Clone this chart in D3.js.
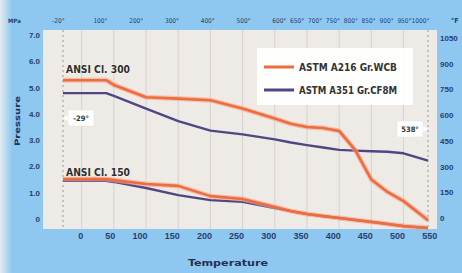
<!DOCTYPE html>
<html>
<head>
<meta charset="utf-8">
<script src="https://cdn.jsdelivr.net/npm/d3@7"></script>
<style>
body { margin: 0; background: #8ec8f0; overflow: hidden; }
text { font-family: "Liberation Sans Narrow", "DejaVu Sans Condensed", "Liberation Sans", sans-serif; }
</style>
</head>
<body>
<div id="chart"></div>
<script>
// temperatures in degC, pressures in MPa
var temps = [-29, 38, 50, 100, 150, 200, 250, 300, 325, 350, 375, 400, 425, 450, 475, 500, 538];
var wcb300 = [5.28, 5.28, 5.1, 4.63, 4.58, 4.52, 4.2, 3.82, 3.62, 3.5, 3.46, 3.35, 2.62, 1.5, 1.03, 0.68, -0.05];
var cf8m300 = [4.79, 4.79, 4.68, 4.2, 3.72, 3.36, 3.22, 3.03, 2.91, 2.81, 2.72, 2.63, 2.6, 2.58, 2.56, 2.5, 2.22];
var wcb150 = [1.52, 1.52, 1.48, 1.33, 1.26, 0.87, 0.76, 0.46, 0.3, 0.19, 0.11, 0.04, -0.04, -0.11, -0.19, -0.27, -0.34];
var cf8m150 = [1.45, 1.45, 1.41, 1.18, 0.91, 0.72, 0.65, 0.42, 0.3, 0.19, 0.11, 0.04, -0.04, -0.11, -0.19, -0.27, -0.34];

var mpaTicks = [0, 1, 2, 3, 4, 5, 6, 7];
var psiTicks = [0, 150, 300, 450, 600, 750, 900, 1050];
var celsiusTicks = [0, 50, 100, 150, 200, 250, 300, 350, 400, 450, 500, 550];
var fahrenheitTicks = [-20, 100, 200, 300, 400, 500, 600, 650, 700, 750, 800, 850, 900, 950, 1000];
var seriesNames = ["ASTM A216 Gr.WCB", "ASTM A351 Gr.CF8M"];
var classNames = ["ANSI Cl. 300", "ANSI Cl. 150"];
var limitTemps = [-29, 538];

function drawChart() {
	var WIDTH = 462, HEIGHT = 273;
	var PLOT = { left: 43, right: 437, top: 30, bottom: 229 };
	var ORANGE = "#ee6c3e", PURPLE = "#504684", NAVY = "#2b3d6e";

	var svg = d3.select("#chart").append("svg").attr("width", WIDTH).attr("height", HEIGHT);

	var x = d3.scaleLinear().domain([-29, 538]).range([63, 428]);
	var xF = d3.scaleLinear().domain(x.domain().map(function(c) { return c * 9 / 5 + 32; })).range(x.range());
	var y = d3.scaleLinear().domain([0, 7]).range([219, 35]);
	var yPsi = d3.scaleLinear().domain([0, 1050]).range([218, 38]);

	// light strip on the left edge
	var defs = svg.append("defs");
	var grad = defs.append("linearGradient").attr("id", "edge");
	grad.append("stop").attr("offset", "0%").attr("stop-color", "#e4ecf1");
	grad.append("stop").attr("offset", "100%").attr("stop-color", "#8ec8f0");
	svg.append("rect").attr("width", WIDTH).attr("height", HEIGHT).attr("fill", "#8ec8f0");
	svg.append("rect").attr("width", 12).attr("height", HEIGHT).attr("fill", "url(#edge)");

	svg.append("rect").attr("x", PLOT.left).attr("y", PLOT.top)
		.attr("width", PLOT.right - PLOT.left).attr("height", PLOT.bottom - PLOT.top)
		.attr("fill", "#eeeae5");

	// vertical grid
	svg.append("g").selectAll("line").data(celsiusTicks.filter(function(d) { return d <= 500; }))
		.enter().append("line")
		.attr("x1", function(d) { return x(d); }).attr("x2", function(d) { return x(d); })
		.attr("y1", PLOT.top).attr("y2", PLOT.bottom)
		.attr("stroke", "#d7d2ce").attr("stroke-width", 1);

	svg.append("g").selectAll("line").data(limitTemps).enter().append("line")
		.attr("x1", function(d) { return x(d); }).attr("x2", function(d) { return x(d); })
		.attr("y1", PLOT.top).attr("y2", PLOT.bottom)
		.attr("stroke", "#9a9a9a").attr("stroke-width", 1).attr("stroke-dasharray", "2,3");

	// axes
	var gY = svg.append("g").attr("transform", "translate(41,0)")
		.call(d3.axisLeft(y).tickValues(mpaTicks).tickSize(0).tickPadding(1)
			.tickFormat(function(d) { return d === 0 ? "0" : d.toFixed(1); }));
	var gR = svg.append("g").attr("transform", "translate(439,0)")
		.call(d3.axisRight(yPsi).tickValues(psiTicks).tickSize(0).tickPadding(1).tickFormat(d3.format("d")));
	var gX = svg.append("g").attr("transform", "translate(0," + PLOT.bottom + ")")
		.call(d3.axisBottom(x).tickValues(celsiusTicks).tickSize(0).tickPadding(4));
	var gT = svg.append("g").attr("transform", "translate(0,25)")
		.call(d3.axisTop(xF).tickValues(fahrenheitTicks).tickSize(0).tickPadding(2)
			.tickFormat(function(d) { return d + "°"; }));
	[gY, gR, gX, gT].forEach(function(g) {
		g.select(".domain").remove();
		g.selectAll("text").attr("fill", NAVY).style("font-weight", "bold")
			.style("font-family", "'Liberation Sans', sans-serif");
	});
	gY.selectAll("text").style("font-size", "8px");
	gR.selectAll("text").style("font-size", "8px");
	gX.attr("text-anchor", "end").selectAll("text").attr("dx", 1).style("font-size", "9px");
	gT.attr("text-anchor", "end").selectAll("text").attr("dx", 1).style("font-size", "6.5px")
		.style("font-family", "'DejaVu Sans Condensed', sans-serif").style("font-weight", "normal");

	svg.append("text").attr("x", 8).attr("y", 23).text("MPa")
		.style("font-size", "6px").style("font-weight", "bold").attr("fill", NAVY);
	svg.append("text").attr("x", 451).attr("y", 23).text("°F")
		.style("font-size", "7px").style("font-weight", "bold").attr("fill", NAVY);
	svg.append("text").attr("transform", "translate(20,121) rotate(-90)")
		.attr("text-anchor", "middle").text("Pressure")
		.attr("textLength", 50).attr("lengthAdjust", "spacingAndGlyphs")
		.style("font-size", "7.5px").style("font-weight", "bold").attr("fill", "#263050");
	svg.append("text").attr("x", 228).attr("y", 266).attr("text-anchor", "middle").text("Temperature")
		.attr("textLength", 80).attr("lengthAdjust", "spacingAndGlyphs")
		.style("font-size", "9px").style("font-weight", "bold").attr("fill", "#263050");

	// rating curves
	var lineGen = d3.line().x(function(d, i) { return x(temps[i]); }).y(function(d) { return y(d); });
	var curves = [
		{ v: cf8m150, c: PURPLE }, { v: wcb150, c: ORANGE },
		{ v: cf8m300, c: PURPLE }, { v: wcb300, c: ORANGE }
	];
	curves.forEach(function(d) {
		if (d.c === ORANGE) {
			svg.append("path").attr("d", lineGen(d.v)).attr("fill", "none")
				.attr("stroke", "#f4a58c").attr("stroke-width", 5).attr("stroke-opacity", 0.6);
		}
		svg.append("path").attr("d", lineGen(d.v)).attr("fill", "none")
			.attr("stroke", d.c).attr("stroke-width", d.c === ORANGE ? 2.6 : 2.4)
			.attr("stroke-linejoin", "round");
	});

	// class labels
	[wcb300, wcb150].forEach(function(v, i) {
		svg.append("text").attr("x", x(-29) + 3).attr("y", y(v[0]) - (i === 0 ? 7 : 3))
			.text(classNames[i]).attr("textLength", 64).attr("lengthAdjust", "spacingAndGlyphs")
			.style("font-size", "11px").style("font-weight", "bold").attr("fill", "#2e2e2e")
			.attr("stroke", "#ffffff").attr("stroke-width", 0.6).attr("paint-order", "stroke");
	});

	// legend
	var legend = svg.append("g").attr("class", "legend");
	legend.append("rect").attr("x", 257).attr("y", 48).attr("width", 156).attr("height", 57)
		.attr("fill", "#ffffff").attr("fill-opacity", 0.92);
	[ORANGE, PURPLE].forEach(function(c, i) {
		var ly = 67 + i * 23;
		legend.append("line").attr("x1", 264).attr("x2", 294).attr("y1", ly).attr("y2", ly)
			.attr("stroke", c).attr("stroke-width", 3);
		legend.append("text").attr("x", 299).attr("y", ly + 4).text(seriesNames[i])
			.attr("textLength", 98).attr("lengthAdjust", "spacingAndGlyphs")
			.style("font-size", "10.5px").style("font-weight", "bold").attr("fill", "#333333");
	});

	// limit temperature callouts
	[{ t: -29, side: 1, cy: 118 }, { t: 538, side: -1, cy: 129 }].forEach(function(d) {
		var px = x(d.t), bx = px + d.side * 5, w = 26;
		var left = d.side > 0 ? bx : bx - w;
		svg.append("path")
			.attr("d", "M" + px + "," + d.cy + "L" + bx + "," + (d.cy - 3) + "L" + bx + "," + (d.cy + 3) + "Z")
			.attr("fill", "#ffffff");
		svg.append("rect").attr("x", left).attr("y", d.cy - 8).attr("width", w).attr("height", 16)
			.attr("fill", "#ffffff").attr("stroke", "#e2e2e2").attr("stroke-width", 0.5);
		svg.append("text").attr("x", left + w / 2).attr("y", d.cy + 3).attr("text-anchor", "middle")
			.text(d.t + "°").style("font-size", "7.5px").style("font-weight", "bold").attr("fill", "#333333");
	});
}

drawChart();
</script>
</body>
</html>
